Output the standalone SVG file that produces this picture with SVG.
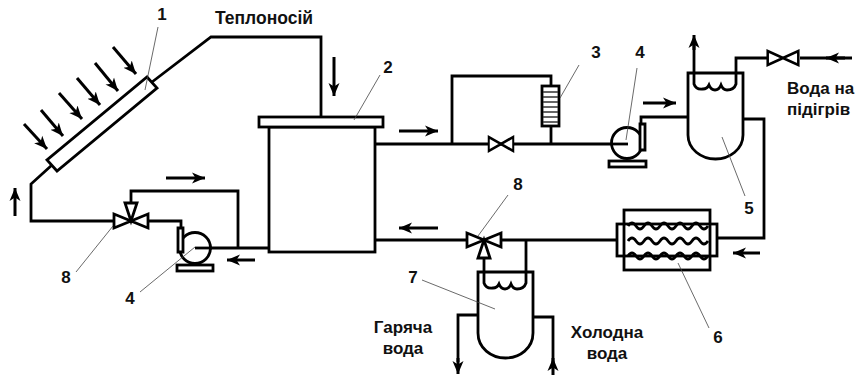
<svg xmlns="http://www.w3.org/2000/svg" width="856" height="376" viewBox="0 0 856 376">
<style>
.p{fill:none;stroke:#000;stroke-width:2.8;stroke-linejoin:miter}
.w{fill:#fff;stroke:#000;stroke-width:2.8}
.f{fill:none;stroke:#000;stroke-width:3;marker-end:url(#ah)}
.l{fill:none;stroke:#444;stroke-width:.8}
text{font-family:"Liberation Sans",Arial,sans-serif;font-weight:bold;font-size:17px;fill:#111}
.m{text-anchor:middle}
</style>
<defs>
<marker id="ah" markerUnits="userSpaceOnUse" markerWidth="16" markerHeight="14" refX="13" refY="7" orient="auto"><path d="M0 1.500L13 7L0 12.500L3.500 7Z" fill="#000"/></marker>
<g id="valve"><path class="w" d="M-17 -7V7L0 0ZM17 -7V7L0 0Z"/></g>
</defs>
<rect width="856" height="376" fill="#fff"/>
<g id="connectors">
<path class="p" d="M152 82L211 37H321V117"/>
<path class="p" d="M52 165L31 184V221H114"/>
<path class="p" d="M148 221H181V228"/>
<path class="p" d="M131 203V191H238V248"/>
<path class="p" d="M195 248H269"/>
<path class="p" d="M375 144H627"/>
<path class="p" d="M452 144V76H551V86M551 126V144"/>
<path class="p" d="M641 124V117H688"/>
<path class="p" d="M743 119H764V238H717"/>
<path class="p" d="M736 73V58H767M800 58H852"/>
<path class="p" d="M694 73V40"/>
<path class="p" d="M375 240H468M500 240H617"/>
<path class="p" d="M526 272V240"/>
<path class="p" d="M484 272V258"/>
<path class="p" d="M478 315H458V362"/>
<path class="p" d="M533 317H553V365"/>
<g id="flow-arrows">
<path class="f" d="M113 47L136 74"/><path class="f" d="M95 63L118 91"/><path class="f" d="M77 78L100 105"/><path class="f" d="M59 93L82 119"/><path class="f" d="M41 110L63 136"/><path class="f" d="M24 124L47 149"/>
<path class="f" d="M15 216V188"/><path class="f" d="M166 178H205"/><path class="f" d="M255 260H227"/><path class="f" d="M334 57V96"/><path class="f" d="M399 131H438"/><path class="f" d="M643 103H676"/><path class="f" d="M438 228H399"/><path class="f" d="M760 253H733"/>
<path class="f" d="M694 50V35"/><path class="f" d="M845 58H826"/><path class="f" d="M458 358V374"/><path class="f" d="M553 375V358"/>
</g>
</g>
<g id="n1"><path class="w" d="M147 77L157 88L57 171L47 160Z"/></g>
<g id="n2"><rect class="w" x="269" y="127" width="106" height="125"/><rect class="w" x="259" y="117" width="124" height="10"/></g>
<g id="n3"><rect class="w" x="542" y="86" width="17" height="40"/><path d="M543 92H558M543 97H558M543 102H558M543 107H558M543 112H558M543 117H558M543 122H558" stroke="#333" stroke-width="1.300"/></g>
<g id="v3"><use href="#valve" transform="translate(501 144) scale(.72 1)"/></g>
<g id="v5"><use href="#valve" transform="translate(783 58) scale(.9 1)"/></g>
<g id="n4a"><rect class="w" x="177" y="265" width="36" height="6"/><circle class="w" cx="195" cy="248" r="15.500"/><path class="w" d="M178 228H183V252H178Z"/><path class="p" d="M195 248H212"/></g>
<g id="n4b"><rect class="w" x="609" y="161" width="37" height="6"/><circle class="w" cx="627" cy="143" r="15.500"/><path class="w" d="M640 124H645V150H640Z"/><path class="p" d="M611 144H628"/></g>
<g id="n5"><path class="w" d="M688 73H743V135C743 149 730 159 715.500 159C701 159 688 149 688 135Z"/><path class="p" d="M694 73V84Q696 90 703 89Q707 89 709 85Q711 90 715 90Q719 90 721 85Q723 90 727 90Q734 90 736 84V73"/></g>
<g id="n6"><rect class="w" x="624" y="210" width="86" height="60"/><rect class="p" x="617" y="224" width="100" height="32"/><path class="p" d="M628 226q4 -6 8 0t8 0t8 0t8 0t8 0t8 0t8 0t8 0t8 0t8 0M628 241q4 -6 8 0t8 0t8 0t8 0t8 0t8 0t8 0t8 0t8 0t8 0M628 256q4 -6 8 0t8 0t8 0t8 0t8 0t8 0t8 0t8 0t8 0t8 0"/></g>
<g id="n7"><path class="w" d="M478 272H533V333C533 348 520 358 505.500 358C491 358 478 348 478 333Z"/><path class="p" d="M484 272V283Q486 289 493 288Q497 288 499 284Q501 289 505 289Q509 289 511 284Q513 289 517 289Q524 289 526 283V272"/></g>
<g id="n8a"><use href="#valve" x="131" y="221"/><path class="w" d="M125 203H137L131 221Z"/></g>
<g id="n8b"><use href="#valve" x="484" y="240"/><path class="w" d="M478 258H490L484 240Z"/></g>
<g id="leaders"><path class="l" d="M158 27L145 90M380 75L354 120M579 65L560 98M637 68L626 140M722 137L745 196M678 263L709 328M422 280L495 309M508 195L478 236M76 272L113 226M140 292L195 247"/></g>
<g id="labels">
<text x="215" y="24" style="font-size:17.500px">Теплоносій</text>
<text x="787" y="94">Вода на</text><text x="787" y="115">підігрів</text>
<text class="m" x="403" y="333">Гаряча</text><text class="m" x="403" y="354">вода</text>
<text class="m" x="607" y="338">Холодна</text><text class="m" x="607" y="359">вода</text>
<text class="m" x="162" y="20">1</text><text class="m" x="388" y="73">2</text><text class="m" x="596" y="58">3</text><text class="m" x="640" y="58">4</text><text class="m" x="749" y="214">5</text><text class="m" x="718" y="343">6</text><text class="m" x="413" y="283">7</text><text class="m" x="518" y="190">8</text><text class="m" x="66" y="283">8</text><text class="m" x="130" y="304">4</text>
</g>
</svg>
